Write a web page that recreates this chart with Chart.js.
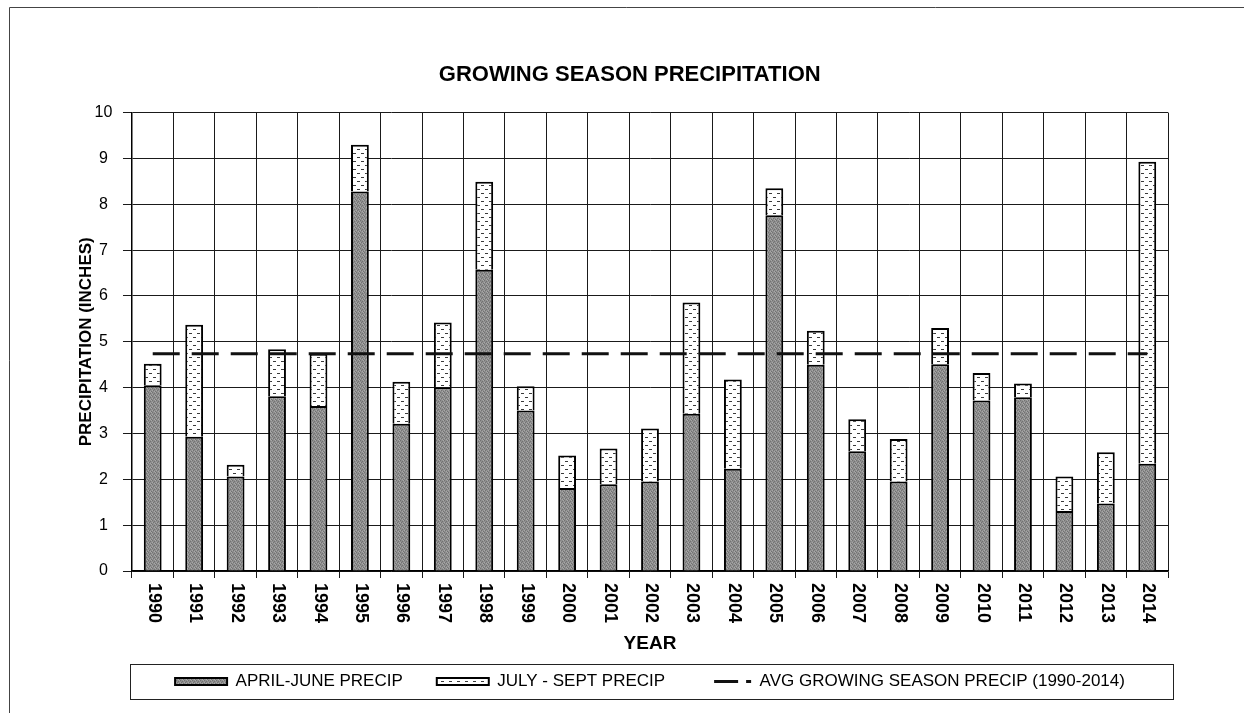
<!DOCTYPE html>
<html>
<head>
<meta charset="utf-8">
<script src="https://cdn.jsdelivr.net/npm/chart.js@4.4.1/dist/chart.umd.min.js"></script>
<style>
html,body{margin:0;padding:0;background:#fff;overflow:hidden}
#wrap{width:1244px;height:713px;position:relative}
</style>
</head>
<body>
<div id="wrap"><canvas id="c" width="1244" height="713"></canvas></div>
<script>
// ---- data ----
const years = ['1990','1991','1992','1993','1994','1995','1996','1997','1998','1999','2000','2001','2002','2003','2004','2005','2006','2007','2008','2009','2010','2011','2012','2013','2014'];
const aprilJunePrecip = [4.05,2.93,2.06,3.81,3.60,8.28,3.21,4.01,6.57,3.50,1.81,1.89,1.95,3.43,2.23,7.76,4.50,2.61,1.95,4.51,3.72,3.79,1.31,1.47,2.34];
const julySeptPrecip  = [0.47,2.44,0.26,1.03,1.14,1.02,0.92,1.41,1.92,0.53,0.71,0.78,1.16,2.43,1.95,0.59,0.74,0.70,0.93,0.79,0.60,0.30,0.75,1.12,6.59];
const avgGrowingSeasonPrecip = [4.74,4.74,4.74,4.74,4.74,4.74,4.74,4.74,4.74,4.74,4.74,4.74,4.74,4.74,4.74,4.74,4.74,4.74,4.74,4.74,4.74,4.74,4.74,4.74,4.74];
const seriesNames = ['APRIL-JUNE PRECIP', 'JULY - SEPT PRECIP', 'AVG GROWING SEASON PRECIP (1990-2014)'];
const chartTitle = 'GROWING SEASON PRECIPITATION';
const xTitle = 'YEAR';
const yTitle = 'PRECIPITATION (INCHES)';
const yMin = 0, yMax = 10, yStep = 1;

Chart.defaults.font.family = '"Liberation Sans", Arial, Helvetica, sans-serif';
Chart.defaults.color = '#000';

const ctx = document.getElementById('c').getContext('2d');

function darkPattern() {
  const c = document.createElement('canvas'); c.width = 4; c.height = 4;
  const g = c.getContext('2d');
  g.fillStyle = '#8e8e8e'; g.fillRect(0, 0, 4, 4);
  g.fillStyle = '#727272';
  g.fillRect(0, 0, 1, 1); g.fillRect(2, 1, 1, 1); g.fillRect(1, 2, 1, 1); g.fillRect(3, 3, 1, 1);
  g.fillStyle = '#a8a8a8';
  g.fillRect(2, 3, 1, 1); g.fillRect(3, 0, 1, 1); g.fillRect(0, 2, 1, 1);
  return ctx.createPattern(c, 'repeat');
}
function lightPattern() {
  const c = document.createElement('canvas'); c.width = 8; c.height = 8;
  const g = c.getContext('2d');
  g.fillStyle = '#ffffff'; g.fillRect(0, 0, 8, 8);
  g.fillStyle = '#3a3a3a';
  g.fillRect(1, 1, 3, 1); g.fillRect(5, 5, 3, 1);
  return ctx.createPattern(c, 'repeat');
}

const decorPlugin = {
  id: 'decor',
  beforeDraw(chart) {
    const g = chart.ctx;
    g.save();
    g.fillStyle = '#fff';
    g.fillRect(0, 0, chart.width, chart.height);
    g.strokeStyle = '#444';
    g.lineWidth = 1;
    g.beginPath();
    g.moveTo(9.5, chart.height);
    g.lineTo(9.5, 7.5);
    g.lineTo(chart.width, 7.5);
    g.stroke();
    g.restore();
  },
  afterLayout(chart) {
    const lg = chart.legend;
    if (lg) {
      chart.$legendFrame = { top: lg.top, bottom: lg.bottom };
      lg.top -= 25;
    }
    if (chart.titleBlock) { chart.titleBlock.left += 12; chart.titleBlock.right += 12; }
  },
  afterDraw(chart) {
    const g = chart.ctx;
    const area = chart.chartArea;
    const xs = chart.scales.x;
    g.save();
    // legend frame
    if (chart.$legendFrame) {
      g.strokeStyle = '#222';
      g.lineWidth = 1;
      g.strokeRect(Math.round(area.left - 2) + 0.5, Math.round(chart.$legendFrame.top) + 0.5,
        Math.round(area.right - area.left + 7), Math.round(chart.$legendFrame.bottom - chart.$legendFrame.top));
    }
    // x tick labels, rotated clockwise (read top to bottom)
    g.fillStyle = '#000';
    g.font = 'bold 18px "Liberation Sans", Arial, sans-serif';
    g.textAlign = 'left';
    g.textBaseline = 'middle';
    chart.data.labels.forEach((lab, i) => {
      const px = xs.getPixelForTick(i);
      g.save();
      g.translate(px + 1, xs.top + 12);
      g.rotate(Math.PI / 2);
      g.fillText(lab, 0, 0);
      g.restore();
    });
    g.restore();
  }
};

new Chart(ctx, {
  type: 'bar',
  data: {
    labels: years,
    datasets: [
      {
        label: seriesNames[0],
        data: aprilJunePrecip,
        backgroundColor: darkPattern(),
        borderColor: '#000',
        borderWidth: 2,
        barPercentage: 0.43,
        categoryPercentage: 1.0,
        stack: 'precip',
        pointStyle: 'rect'
      },
      {
        label: seriesNames[1],
        data: julySeptPrecip,
        backgroundColor: lightPattern(),
        borderColor: '#000',
        borderWidth: 2,
        barPercentage: 0.43,
        categoryPercentage: 1.0,
        stack: 'precip',
        pointStyle: 'rect'
      },
      {
        type: 'line',
        label: seriesNames[2],
        data: avgGrowingSeasonPrecip,
        borderColor: '#111',
        backgroundColor: '#111',
        borderWidth: 3,
        borderDash: [27, 12],
        pointRadius: 0,
        fill: false,
        stack: 'avg',
        order: -1
      }
    ]
  },
  options: {
    responsive: false,
    devicePixelRatio: 1,
    animation: false,
    layout: { padding: { top: 20, left: 67.5, right: 76, bottom: 14 } },
    scales: {
      x: {
        stacked: true,
        offset: true,
        grid: { display: true, offset: true, color: '#1a1a1a', lineWidth: 1, tickLength: 7, drawTicks: true },
        border: { color: '#000', width: 1.5 },
        ticks: { display: false },
        title: { display: true, text: xTitle, color: '#000', font: { size: 19, weight: 'bold' }, padding: { top: 54.6, bottom: 8.6 } }
      },
      y: {
        stacked: true,
        min: yMin,
        max: yMax,
        ticks: { stepSize: yStep, color: '#000', font: { size: 16 }, padding: 10.7, crossAlign: 'center' },
        grid: { color: '#1a1a1a', lineWidth: 1, tickLength: 9 },
        border: { color: '#000', width: 1.5 },
        title: { display: true, text: yTitle, color: '#000', font: { size: 17, weight: 'bold', lineHeight: 1 }, padding: { top: 10, bottom: -10.7 } }
      }
    },
    plugins: {
      tooltip: { enabled: false },
      title: {
        display: true,
        text: chartTitle,
        color: '#000',
        font: { size: 22, weight: 'bold' },
        padding: { top: 41.8, bottom: 24.4 }
      },
      legend: {
        position: 'bottom',
        fullSize: false,
        maxHeight: 35,
        align: 'center',
        labels: {
          usePointStyle: true,
          pointStyleWidth: 52,
          boxHeight: 7,
          padding: 34,
          color: '#000',
          font: { size: 17 },
          sort: (a, b) => a.datasetIndex - b.datasetIndex,
          generateLabels(chart) {
            const items = Chart.defaults.plugins.legend.labels.generateLabels(chart);
            items.forEach(it => {
              const ds = chart.data.datasets[it.datasetIndex];
              if (ds.type === 'line') {
                it.pointStyle = 'line';
                it.lineDash = [0, 15, 24, 8, 5, 100];
                it.lineWidth = 3;
                it.strokeStyle = '#111';
              } else {
                it.pointStyle = 'rect';
                it.lineWidth = 2;
                it.strokeStyle = '#000';
                it.lineDash = [];
              }
            });
            return items;
          }
        }
      }
    }
  },
  plugins: [decorPlugin]
});
</script>
</body>
</html>
